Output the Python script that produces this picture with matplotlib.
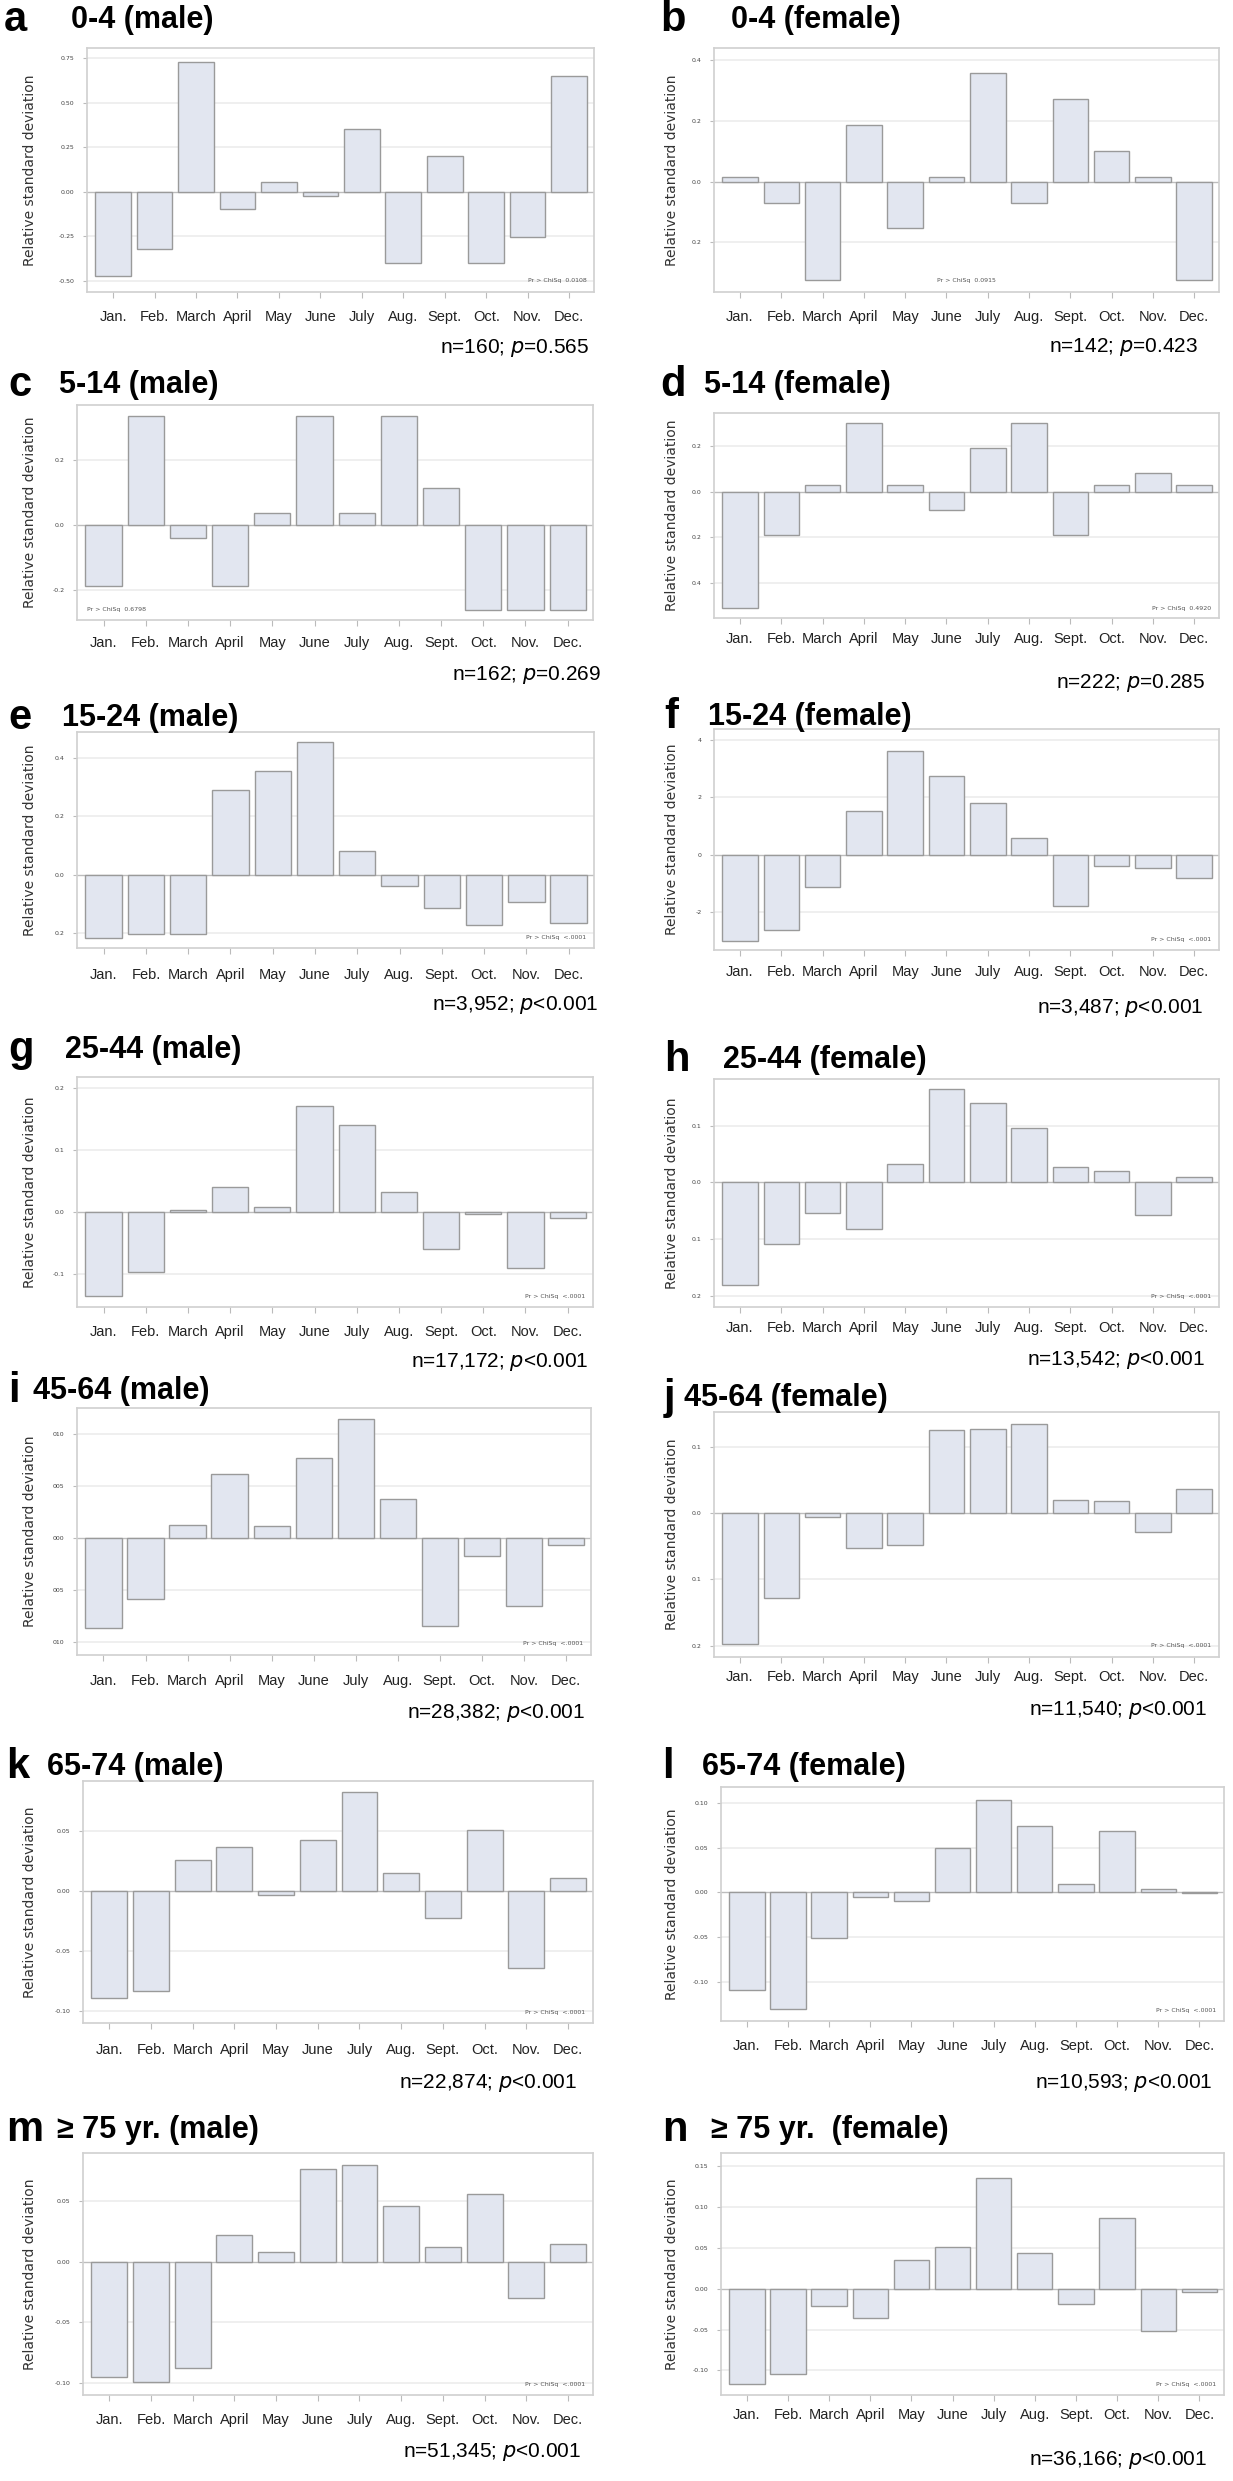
import matplotlib
matplotlib.use('Agg')
import matplotlib.pyplot as plt

W, H = 1233, 2481

months = ['Jan.', 'Feb.', 'March', 'April', 'May', 'June', 'July', 'Aug.', 'Sept.', 'Oct.', 'Nov.', 'Dec.']

# relative standard deviation per month
a_vals = [-0.476, -0.321, 0.727, -0.100, 0.055, -0.026, 0.351, -0.402, 0.203, -0.402, -0.252, 0.650]
b_vals = [0.016, -0.069, -0.324, 0.186, -0.154, 0.016, 0.359, -0.069, 0.273, 0.102, 0.016, -0.324]
c_vals = [-0.187, 0.335, -0.039, -0.187, 0.038, 0.335, 0.038, 0.335, 0.115, -0.260, -0.260, -0.260]
d_vals = [-0.512, -0.191, 0.029, 0.300, 0.029, -0.081, 0.194, 0.300, -0.191, 0.029, 0.084, 0.029]
e_vals = [-0.216, -0.203, -0.203, 0.291, 0.357, 0.454, 0.083, -0.038, -0.115, -0.171, -0.093, -0.165]
f_vals = [-0.300, -0.262, -0.113, 0.151, 0.360, 0.276, 0.179, 0.060, -0.178, -0.038, -0.047, -0.079]
g_vals = [-0.135, -0.097, 0.003, 0.041, 0.008, 0.171, 0.140, 0.032, -0.060, -0.003, -0.090, -0.009]
h_vals = [-0.181, -0.108, -0.054, -0.082, 0.033, 0.165, 0.139, 0.096, 0.028, 0.020, -0.058, 0.009]
i_vals = [-0.086, -0.058, 0.013, 0.062, 0.012, 0.077, 0.114, 0.038, -0.084, -0.017, -0.065, -0.006]
j_vals = [-0.197, -0.128, -0.006, -0.053, -0.049, 0.125, 0.127, 0.134, 0.020, 0.018, -0.029, 0.036]
k_vals = [-0.089, -0.083, 0.026, 0.037, -0.003, 0.043, 0.083, 0.015, -0.022, 0.051, -0.064, 0.011]
l_vals = [-0.109, -0.131, -0.051, -0.005, -0.010, 0.050, 0.104, 0.074, 0.009, 0.069, 0.004, -0.001]
m_vals = [-0.095, -0.099, -0.088, 0.022, 0.008, 0.077, 0.080, 0.046, 0.012, 0.056, -0.030, 0.015]
n_vals = [-0.116, -0.104, -0.021, -0.036, 0.035, 0.051, 0.136, 0.044, -0.019, 0.087, -0.052, -0.004]

letters = ['a', 'b', 'c', 'd', 'e', 'f', 'g', 'h', 'i', 'j', 'k', 'l', 'm', 'n']
titles = ['0-4 (male)', '0-4 (female)', '5-14 (male)', '5-14 (female)',
          '15-24 (male)', '15-24 (female)', '25-44 (male)', '25-44 (female)',
          '45-64 (male)', '45-64 (female)', '65-74 (male)', '65-74 (female)',
          '\u2265 75 yr. (male)', '\u2265 75 yr.  (female)']
n_counts = ['160', '142', '162', '222', '3,952', '3,487', '17,172', '13,542',
            '28,382', '11,540', '22,874', '10,593', '51,345', '36,166']
p_texts = ['=0.565', '=0.423', '=0.269', '=0.285'] + ['<0.001'] * 10
chisq = ['0.0108', '0.0915', '0.6798', '0.4920'] + ['<.0001'] * 10

yticks = [
    [-0.5, -0.25, 0, 0.25, 0.5, 0.75],
    [-0.2, 0, 0.2, 0.4],
    [-0.2, 0, 0.2],
    [-0.4, -0.2, 0, 0.2],
    [-0.2, 0, 0.2, 0.4],
    [-0.2, 0, 0.2, 0.4],
    [-0.1, 0, 0.1, 0.2],
    [-0.2, -0.1, 0, 0.1],
    [-0.10, -0.05, 0, 0.05, 0.10],
    [-0.2, -0.1, 0, 0.1],
    [-0.10, -0.05, 0, 0.05],
    [-0.10, -0.05, 0, 0.05, 0.10],
    [-0.10, -0.05, 0, 0.05],
    [-0.10, -0.05, 0, 0.05, 0.10, 0.15],
]
ytick_labels = [
    ['-0.50', '-0.25', '0.00', '0.25', '0.50', '0.75'],
    ['0.2', '0.0', '0.2', '0.4'],
    ['-0.2', '0.0', '0.2'],
    ['0.4', '0.2', '0.0', '0.2'],
    ['0.2', '0.0', '0.2', '0.4'],
    ['-2', '0', '2', '4'],
    ['-0.1', '0.0', '0.1', '0.2'],
    ['0.2', '0.1', '0.0', '0.1'],
    ['010', '005', '000', '005', '010'],
    ['0.2', '0.1', '0.0', '0.1'],
    ['-0.10', '-0.05', '0.00', '0.05'],
    ['-0.10', '-0.05', '0.00', '0.05', '0.10'],
    ['-0.10', '-0.05', '0.00', '0.05'],
    ['-0.10', '-0.05', '0.00', '0.05', '0.10', '0.15'],
]
ylims = [(-0.564, 0.808), (-0.363, 0.44), (-0.292, 0.369), (-0.556, 0.346),
         (-0.251, 0.489), (-0.331, 0.438), (-0.153, 0.218), (-0.219, 0.182),
         (-0.112, 0.125), (-0.217, 0.152), (-0.110, 0.092), (-0.144, 0.118),
         (-0.110, 0.090), (-0.130, 0.166)]

# layout in pixels: frame left, right, top, bottom
frames = [(87, 594, 48, 292), (714, 1219, 48, 292),
          (77, 593, 405, 620), (714, 1219, 413, 618),
          (77, 594, 732, 948), (714, 1219, 729, 950),
          (77, 593, 1077, 1307), (714, 1219, 1079, 1307),
          (77, 591, 1408, 1655), (714, 1219, 1412, 1657),
          (83, 593, 1781, 2023), (721, 1224, 1787, 2021),
          (83, 593, 2153, 2395), (721, 1224, 2153, 2395)]
title_pos = [(4, 71, 20), (660, 731, 20), (8, 59, 385), (660, 704, 385),
             (8, 62, 718), (664, 708, 717), (8, 65, 1050), (664, 723, 1060),
             (8, 33, 1391), (664, 684, 1398), (6, 47, 1767), (662, 702, 1767),
             (6, 57, 2130), (662, 711, 2130)]
label_y = [348, 347, 675, 683, 1005, 1008, 1362, 1360, 1713, 1710, 2083, 2083, 2452, 2460]
label_x = [589, 1198, 601, 1205, 598, 1203, 589, 1205, 585, 1207, 577, 1213, 581, 1207]
month_y = [317, 317, 643, 639, 975, 972, 1332, 1328, 1681, 1677, 2050, 2046, 2420, 2415]

all_vals = [a_vals, b_vals, c_vals, d_vals, e_vals, f_vals, g_vals,
            h_vals, i_vals, j_vals, k_vals, l_vals, m_vals, n_vals]

bar_fill = '#e2e6f0'
bar_edge = '#9a9a9a'
frame_col = '#d0d0d0'

fig = plt.figure(figsize=(W / 100, H / 100), dpi=100)

for idx, vals in enumerate(all_vals):
    x0, x1, y0, y1 = frames[idx]
    ax = fig.add_axes([x0 / W, 1 - y1 / H, (x1 - x0) / W, (y1 - y0) / H])
    for yt in yticks[idx]:
        if yt != 0:
            ax.axhline(yt, color='#ececec', lw=1.2, zorder=0)
    ax.axhline(0, color='#bdbdbd', lw=1.0, zorder=1)
    ax.bar(range(12), vals, width=0.86, color=bar_fill, edgecolor=bar_edge,
           linewidth=1.0, zorder=2)
    ax.set_xlim(-0.63, 11.6)
    ax.set_ylim(*ylims[idx])
    ax.set_yticks(yticks[idx])
    ax.set_yticklabels(ytick_labels[idx], fontsize=4.5, color='#444444')
    ax.set_xticks(range(12))
    ax.set_xticklabels([])
    ax.tick_params(axis='x', length=4, color='#bbbbbb', width=0.8)
    ax.tick_params(axis='y', length=3, color='#bbbbbb', width=0.8, pad=6)
    for sp in ax.spines.values():
        sp.set_color(frame_col)
        sp.set_linewidth(1.2)

    # month names under the frame
    fy = 1 - month_y[idx] / H
    for k, mname in enumerate(months):
        xp = x0 + (k + 0.63) / 12.23 * (x1 - x0)
        fig.text(xp / W, fy, mname, ha='center', va='center', fontsize=10.5,
                 family='Liberation Sans', color='#222222')

    # chi-square note
    if idx == 1:
        ax.text(0.5, 0.035, 'Pr > ChiSq  ' + chisq[idx], transform=ax.transAxes,
                ha='center', va='bottom', fontsize=4.5, color='#555555')
    elif idx == 2:
        ax.text(0.02, 0.035, 'Pr > ChiSq  ' + chisq[idx], transform=ax.transAxes,
                ha='left', va='bottom', fontsize=4.5, color='#555555')
    else:
        ax.text(0.985, 0.035, 'Pr > ChiSq  ' + chisq[idx], transform=ax.transAxes,
                ha='right', va='bottom', fontsize=4.5, color='#555555')

    # y axis label
    lx = 30 if idx % 2 == 0 else 672
    fig.text(lx / W, 1 - (y0 + y1) / 2 / H, 'Relative standard deviation',
             rotation=90, ha='center', va='center', fontsize=10,
             family='DejaVu Sans', color='#333333')

    # panel letter and title
    px, tx, ty = title_pos[idx]
    fig.text(px / W, 1 - ty / H, letters[idx], ha='left', va='center',
             fontsize=30, fontweight='bold', family='Liberation Sans')
    fig.text(tx / W, 1 - ty / H, titles[idx], ha='left', va='center',
             fontsize=22, fontweight='bold', family='Liberation Sans')

    # sample size and p value
    fig.text(label_x[idx] / W, 1 - label_y[idx] / H,
             'n=' + n_counts[idx] + '; $\\it{p}$' + p_texts[idx],
             ha='right', va='center', fontsize=15, family='Liberation Sans')

fig.savefig('out.png', dpi=100, facecolor='white')
